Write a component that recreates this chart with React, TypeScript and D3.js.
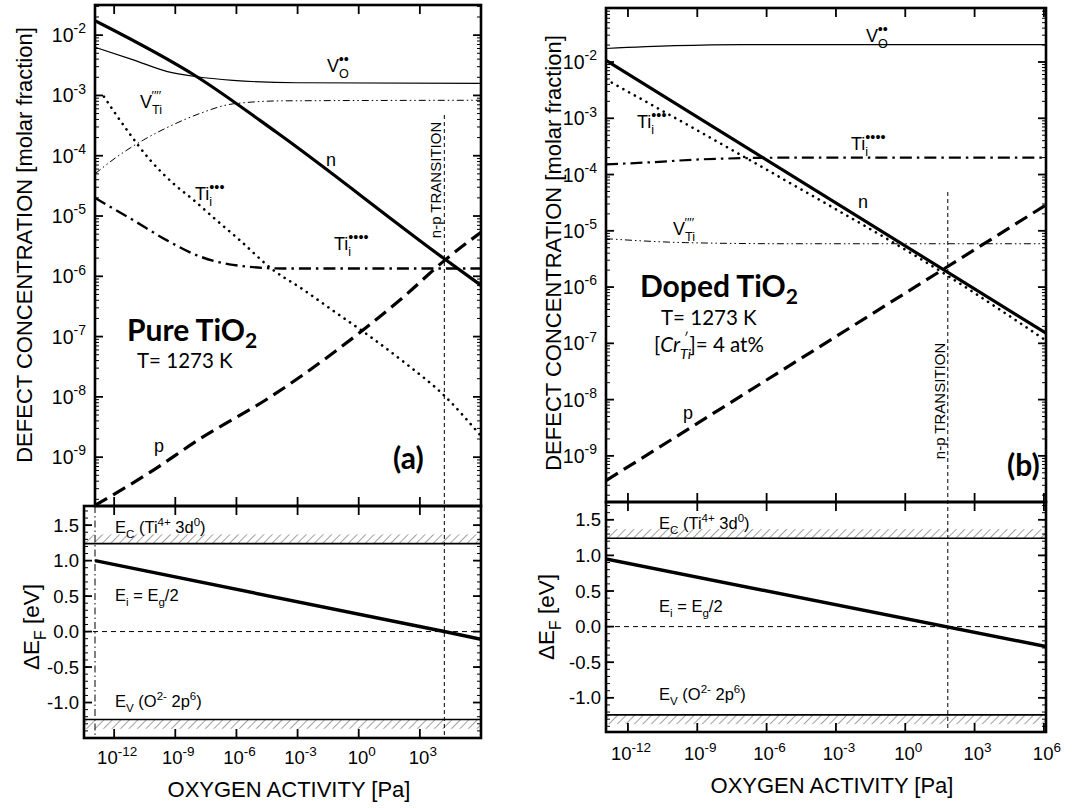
import React from "react";
import * as d3 from "d3";

// ---------------- DATA (log10 values) ----------------
// x = log10(oxygen activity / Pa), y = log10(defect concentration)
const xTickExps = [-12, -9, -6, -3, 0, 3, 6];
const efTickVals = [1.5, 1.0, 0.5, 0.0, -0.5, -1.0];

// (a) Pure TiO2
const pureN_x = [-12.94, -7.94, -4, 4.2, 6];
const pureN_y = [-1.76, -2.69, -3.62, -5.71, -6.15];
const pureP_x = [-12.94, -10.19, -7.72, -4.42, -1.13, 2.17, 4.2, 6];
const pureP_y = [-9.8, -9.24, -8.68, -8.02, -7.24, -6.35, -5.74, -5.27];
const pureVO_x = [-12.94, -11.06, -9.43, -7.94, -6.17, -3, 6];
const pureVO_y = [-2.2, -2.41, -2.6, -2.69, -2.75, -2.79, -2.8];
const pureVTi_x = [-12.94, -11.87, -10.57, -9.26, -7.8, -6.17, -3.73, 6];
const pureVTi_y = [-4.3, -4.02, -3.74, -3.51, -3.3, -3.14, -3.09, -3.08];
const pureTi3_x = [-12.5, -11.38, -10.24, -9.1, -8.12, -6.98, -5.84, -4.26, -2.77, -1.13, 0.52, 2.17, 4.2, 6];
const pureTi3_y = [-3.02, -3.57, -4.07, -4.46, -4.73, -5.07, -5.4, -5.88, -6.21, -6.6, -6.99, -7.41, -7.98, -8.65];
const pureTi4_x = [-12.94, -11.06, -9.43, -7.8, -6.17, -3.73, 6];
const pureTi4_y = [-4.7, -5.07, -5.4, -5.67, -5.81, -5.87, -5.87];
const pureEF_x = [-12.94, 4.2, 6];
const pureEF_y = [1.0, 0.0, -0.11];
const pureTransition = 4.2;

// (b) Doped TiO2
const dopedN_x = [-12.95, 6.09];
const dopedN_y = [-1.97, -6.82];
const dopedP_x = [-12.95, 6.09];
const dopedP_y = [-9.44, -4.54];
const dopedVO_x = [-12.95, -10, -7, 6.09];
const dopedVO_y = [-1.76, -1.71, -1.69, -1.69];
const dopedVTi_x = [-12.95, -9.52, -5, 6.09];
const dopedVTi_y = [-5.14, -5.21, -5.23, -5.23];
const dopedTi3_x = [-12.95, -5.33, 1.84, 6.09];
const dopedTi3_y = [-2.31, -4.07, -5.8, -6.95];
const dopedTi4_x = [-12.95, -10.92, -8.82, -5, 6.09];
const dopedTi4_y = [-3.82, -3.78, -3.73, -3.7, -3.7];
const dopedEF_x = [-12.95, 6.09];
const dopedEF_y = [0.95, -0.28];
const dopedTransition = 1.84;

const bandEc = 1.24;
const bandEv = -1.24;
const hatchH = 0.13;

// ---------------- STYLE ----------------
const FONT = "'Liberation Sans', Arial, Helvetica, sans-serif";
const CAL = "Lato, 'Open Sans', sans-serif";

type Seg = { t: string; k?: "sub" | "sup"; it?: boolean; dx?: number; scale?: number };

function Rich(props: {
  x: number; y: number; segs: Seg[]; size: number; family?: string;
  anchor?: string; weight?: string; transform?: string; subShift?: number;
}) {
  const { x, y, segs, size, family = FONT, anchor = "start", weight = "normal", transform, subShift = 0.32 } = props;
  let cur = 0;
  return (
    <text x={x} y={y} fontSize={size} fontFamily={family} textAnchor={anchor}
      fontWeight={weight} transform={transform} fill="#000">
      {segs.map((s, i) => {
        const target = s.k === "sub" ? size * subShift : s.k === "sup" ? -size * 0.45 : 0;
        const dy = target - cur;
        cur = target;
        return (
          <tspan key={i} dy={dy} dx={s.dx ?? 0}
            fontSize={s.k ? size * (s.scale ?? 0.7) : size}
            fontStyle={s.it ? "italic" : "normal"}>{s.t}</tspan>
        );
      })}
    </text>
  );
}

function Pow({ x, y, e, anchor, size, esize }: { x: number; y: number; e: number; anchor: string; size: number; esize: number }) {
  return (
    <text x={x} y={y} fontSize={size} fontFamily={FONT} textAnchor={anchor} fill="#000">
      <tspan>10</tspan>
      <tspan dy={-size * 0.45} fontSize={esize}>{String(e)}</tspan>
    </text>
  );
}

type Series = { xs: number[]; ys: number[]; w: number; dash?: string; cap?: string };

type PanelCfg = {
  id: string;
  ux0: number; ux1: number; uy0: number; uy1: number; lx0: number; ly1: number;
  xDom: [number, number]; yDom: [number, number]; efDom: [number, number];
  series: Series[]; ef: { xs: number[]; ys: number[] };
  trans: number; transTop: number; transLabel: [number, number];
  xLabelExps: number[];
  dashDotLeft: boolean;
  yTitleX: number; yTitleY: number; efTitleX: number; efTitleY: number;
  xTitleX: number; xTitleY: number; xLabY: number;
  lowerText: { x: number; ec: number; ei: number; ev: number };
  annotations: React.ReactNode;
};

function Panel({ c }: { c: PanelCfg }) {
  const pxPerDec = (c.ux1 - c.ux0) / (c.xDom[1] - c.xDom[0]);
  const xU = d3.scaleLog().domain([10 ** c.xDom[0], 10 ** c.xDom[1]]).range([c.ux0, c.ux1]);
  const xL = d3.scaleLog()
    .domain([10 ** (c.xDom[0] - (c.ux0 - c.lx0) / pxPerDec), 10 ** c.xDom[1]])
    .range([c.lx0, c.ux1]);
  const yU = d3.scaleLog().domain([10 ** c.yDom[0], 10 ** c.yDom[1]]).range([c.uy1, c.uy0]);
  const ly0 = c.uy1;
  const yL = d3.scaleLinear().domain(c.efDom).range([c.ly1, ly0]);

  const mkLine = (s: { xs: number[]; ys: number[] }) => {
    const pts: [number, number][] = s.xs.map((v, i) => [xU(10 ** v), yU(10 ** s.ys[i])]);
    return d3.line().curve(d3.curveMonotoneX)(pts) || "";
  };
  const efPts: [number, number][] = c.ef.xs.map((v, i) => [xL(10 ** v), yL(c.ef.ys[i])]);
  const efPath = d3.line().curve(d3.curveMonotoneX)(efPts) || "";

  // ticks
  const majorX = xTickExps.filter(e => e >= c.xDom[0] && e <= c.xDom[1]).map(e => xU(10 ** e))
    .filter(px => px > c.ux0 + 2 && px < c.ux1 - 1);
  const majorY = d3.range(Math.floor(c.yDom[0]), Math.ceil(c.yDom[1]) + 1)
    .filter(e => e >= c.yDom[0] && e <= c.yDom[1]);
  const minorY: number[] = [];
  d3.range(Math.floor(c.yDom[0]), Math.ceil(c.yDom[1]) + 1).forEach(d => {
    for (let m = 2; m <= 9; m++) {
      const v = d + Math.log10(m);
      if (v > c.yDom[0] && v < c.yDom[1]) minorY.push(v);
    }
  });
  const efMajor = d3.range(-1.5, 2.0001, 0.5).filter(v => v > c.efDom[0] && v < c.efDom[1]);
  const efMinor = d3.range(-15, 18).map(v => v / 10).filter(v => v > c.efDom[0] && v < c.efDom[1]);

  const tk: React.ReactNode[] = [];
  majorX.forEach((px, i) => {
    tk.push(<line key={"xt" + i} x1={px} x2={px} y1={c.uy0} y2={c.uy0 + 9} />);
    tk.push(<line key={"xb" + i} x1={px} x2={px} y1={c.uy1} y2={c.uy1 - 9} />);
    tk.push(<line key={"lxt" + i} x1={px} x2={px} y1={ly0} y2={ly0 + 9} />);
    tk.push(<line key={"lxb" + i} x1={px} x2={px} y1={c.ly1} y2={c.ly1 - 9} />);
  });
  majorY.forEach(e => {
    const py = yU(10 ** e);
    tk.push(<line key={"my" + e} x1={c.ux0} x2={c.ux0 + 8} y1={py} y2={py} />);
    tk.push(<line key={"myr" + e} x1={c.ux1} x2={c.ux1 - 8} y1={py} y2={py} />);
  });
  minorY.forEach((v, i) => {
    const py = yU(10 ** v);
    tk.push(<line key={"ny" + i} x1={c.ux0} x2={c.ux0 + 4} y1={py} y2={py} strokeWidth={1} />);
    tk.push(<line key={"nyr" + i} x1={c.ux1} x2={c.ux1 - 4} y1={py} y2={py} strokeWidth={1} />);
  });
  efMajor.forEach((v, i) => {
    const py = yL(v);
    tk.push(<line key={"em" + i} x1={c.lx0} x2={c.lx0 + 8} y1={py} y2={py} />);
    tk.push(<line key={"emr" + i} x1={c.ux1} x2={c.ux1 - 8} y1={py} y2={py} />);
  });
  efMinor.forEach((v, i) => {
    const py = yL(v);
    tk.push(<line key={"en" + i} x1={c.lx0} x2={c.lx0 + 4} y1={py} y2={py} strokeWidth={1} />);
    tk.push(<line key={"enr" + i} x1={c.ux1} x2={c.ux1 - 4} y1={py} y2={py} strokeWidth={1} />);
  });

  const tx = xU(10 ** c.trans);
  const hatchId = "hatch-" + c.id;
  const clipU = "clipU-" + c.id;
  const clipL = "clipL-" + c.id;

  return (
    <g>
      <defs>
        <pattern id={hatchId} width={6} height={6} patternUnits="userSpaceOnUse" patternTransform="rotate(45)">
          <line x1={0} y1={0} x2={0} y2={6} stroke="#444" strokeWidth={1} />
        </pattern>
        <clipPath id={clipU}><rect x={c.ux0} y={c.uy0} width={c.ux1 - c.ux0} height={c.uy1 - c.uy0} /></clipPath>
        <clipPath id={clipL}><rect x={c.lx0} y={ly0} width={c.ux1 - c.lx0} height={c.ly1 - ly0} /></clipPath>
      </defs>

      {/* upper panel curves */}
      <g clipPath={`url(#${clipU})`} fill="none" stroke="#000">
        {c.series.map((s, i) => (
          <path key={i} d={mkLine(s)} strokeWidth={s.w} strokeDasharray={s.dash}
            strokeLinecap={(s.cap as any) || "butt"} />
        ))}
      </g>

      {/* lower panel */}
      <g clipPath={`url(#${clipL})`}>
        <rect x={c.lx0} y={yL(bandEc + hatchH)} width={c.ux1 - c.lx0} height={yL(bandEc) - yL(bandEc + hatchH)} fill={`url(#${hatchId})`} />
        <rect x={c.lx0} y={yL(bandEv)} width={c.ux1 - c.lx0} height={yL(bandEv - hatchH) - yL(bandEv)} fill={`url(#${hatchId})`} />
        <line x1={c.lx0} x2={c.ux1} y1={yL(bandEc)} y2={yL(bandEc)} stroke="#000" strokeWidth={1.6} />
        <line x1={c.lx0} x2={c.ux1} y1={yL(bandEv)} y2={yL(bandEv)} stroke="#000" strokeWidth={1.6} />
        <line x1={c.lx0} x2={c.ux1} y1={yL(0)} y2={yL(0)} stroke="#000" strokeWidth={1} strokeDasharray="5,4" />
        {c.dashDotLeft && (
          <line x1={c.ux0} x2={c.ux0} y1={ly0} y2={c.ly1} stroke="#000" strokeWidth={1} strokeDasharray="7,3,1.5,3" />
        )}
        <path d={efPath} fill="none" stroke="#000" strokeWidth={3.5} />
      </g>

      {/* transition line */}
      <line x1={tx} x2={tx} y1={c.transTop} y2={c.ly1} stroke="#000" strokeWidth={1} strokeDasharray="4,3" />
      <text transform={`translate(${c.transLabel[0]},${c.transLabel[1]}) rotate(-90)`} textAnchor="middle"
        fontSize={15} fontFamily={FONT}>n-p TRANSITION</text>

      {/* ticks */}
      <g stroke="#000" strokeWidth={1.8}>{tk}</g>

      {/* frames */}
      <rect x={c.ux0} y={c.uy0} width={c.ux1 - c.ux0} height={c.uy1 - c.uy0} fill="none" stroke="#000" strokeWidth={2.6} />
      <rect x={c.lx0} y={ly0} width={c.ux1 - c.lx0} height={c.ly1 - ly0} fill="none" stroke="#000" strokeWidth={2.6} />

      {/* y tick labels upper */}
      {majorY.map(e => <Pow key={"yl" + e} x={c.ux0 - 9} y={yU(10 ** e) + 7} e={e} anchor="end" size={19.5} esize={14} />)}
      {/* y tick labels lower */}
      {efTickVals.map(v => (
        <text key={"el" + v} x={c.lx0 - 5} y={yL(v) + 6.5} fontSize={18.5} fontFamily={FONT} textAnchor="end">{v.toFixed(1)}</text>
      ))}
      {/* x tick labels */}
      {c.xLabelExps.map(e => <Pow key={"xl" + e} x={xL(10 ** e) + 3} y={c.xLabY} e={e} anchor="middle" size={18.5} esize={13.5} />)}

      {/* axis titles */}
      <text transform={`translate(${c.yTitleX},${c.yTitleY}) rotate(-90)`} textAnchor="middle" fontSize={22} fontFamily={FONT}>
        DEFECT CONCENTRATION [molar fraction]
      </text>
      <Rich x={0} y={0} transform={`translate(${c.efTitleX},${c.efTitleY}) rotate(-90)`} anchor="middle" size={22.5}
        segs={[{ t: "ΔE" }, { t: "F", k: "sub" }, { t: " [eV]" }]} />
      <text x={c.xTitleX} y={c.xTitleY} textAnchor="middle" fontSize={22} fontFamily={FONT}>OXYGEN ACTIVITY [Pa]</text>

      {/* lower panel labels */}
      <Rich x={c.lowerText.x} y={c.lowerText.ec} size={16.5}
        segs={[{ t: "E" }, { t: "C", k: "sub" }, { t: " (Ti" }, { t: "4+", k: "sup" }, { t: " 3d" }, { t: "0", k: "sup" }, { t: ")" }]} />
      <Rich x={c.lowerText.x} y={c.lowerText.ei} size={16.5}
        segs={[{ t: "E" }, { t: "i", k: "sub" }, { t: " = E" }, { t: "g", k: "sub" }, { t: "/2" }]} />
      <Rich x={c.lowerText.x} y={c.lowerText.ev} size={16.5}
        segs={[{ t: "E" }, { t: "V", k: "sub" }, { t: " (O" }, { t: "2-", k: "sup" }, { t: " 2p" }, { t: "6", k: "sup" }, { t: ")" }]} />

      {c.annotations}
    </g>
  );
}

const DOTS3 = "•••";
const DOTS4 = "••••";
const PRIMES = "′′′′";

function VO({ x, y }: { x: number; y: number }) {
  return <Rich x={x} y={y} size={18} segs={[{ t: "V" }, { t: "O", k: "sub" }, { t: "••", k: "sup", dx: -10, scale: 0.8 }]} />;
}
function VTi({ x, y }: { x: number; y: number }) {
  return <Rich x={x} y={y} size={18} segs={[{ t: "V" }, { t: "Ti", k: "sub" }, { t: PRIMES, k: "sup", dx: -10.5 }]} />;
}
function TiI({ x, y, dots }: { x: number; y: number; dots: string }) {
  return <Rich x={x} y={y} size={18} segs={[{ t: "Ti" }, { t: "i", k: "sub" }, { t: dots, k: "sup", dx: -2.8, scale: 0.8 }]} />;
}
function Plain({ x, y, t }: { x: number; y: number; t: string }) {
  return <text x={x} y={y} fontSize={18} fontFamily={FONT}>{t}</text>;
}

const pureCfg: PanelCfg = {
  id: "a",
  ux0: 95, ux1: 481, uy0: 5, uy1: 506, lx0: 84, ly1: 738,
  xDom: [-12.94, 6], yDom: [-9.81, -1.5], efDom: [-1.5, 1.77],
  series: [
    { xs: pureVO_x, ys: pureVO_y, w: 1.2 },
    { xs: pureVTi_x, ys: pureVTi_y, w: 1, dash: "7,3,1.5,3,1.5,3" },
    { xs: pureTi3_x, ys: pureTi3_y, w: 2.6, dash: "0.1,6.5", cap: "round" },
    { xs: pureTi4_x, ys: pureTi4_y, w: 2.4, dash: "12,5,2.5,5" },
    { xs: pureP_x, ys: pureP_y, w: 3.2, dash: "14,7" },
    { xs: pureN_x, ys: pureN_y, w: 3.2 },
  ],
  ef: { xs: pureEF_x, ys: pureEF_y },
  trans: pureTransition, transTop: 115, transLabel: [441, 180],
  xLabelExps: [-12, -9, -6, -3, 0, 3],
  dashDotLeft: true,
  yTitleX: 32, yTitleY: 245, efTitleX: 39, efTitleY: 627,
  xTitleX: 289, xTitleY: 797, xLabY: 764,
  lowerText: { x: 115, ec: 533, ei: 601, ev: 707 },
  annotations: (
    <g>
      <VO x={327} y={72} />
      <VTi x={140} y={108} />
      <Plain x={326} y={166} t="n" />
      <TiI x={195} y={200} dots={DOTS3} />
      <TiI x={334} y={250} dots={DOTS4} />
      <Plain x={154} y={452} t="p" />
      <Rich x={127} y={341} size={30} family={CAL} weight="bold" subShift={0.22} segs={[{ t: "Pure TiO" }, { t: "2", k: "sub" }]} />
      <text x={137} y={368} fontSize={20.5} fontFamily={CAL}>T= 1273 K</text>
      <text x={393} y={469} fontSize={30} fontFamily={CAL} fontWeight="bold">(a)</text>
    </g>
  ),
};

const dopedCfg: PanelCfg = {
  id: "b",
  ux0: 606, ux1: 1046, uy0: 8, uy1: 502, lx0: 606, ly1: 732,
  xDom: [-12.95, 6.09], yDom: [-9.82, -1.04], efDom: [-1.48, 1.75],
  series: [
    { xs: dopedVO_x, ys: dopedVO_y, w: 1.2 },
    { xs: dopedVTi_x, ys: dopedVTi_y, w: 1, dash: "7,3,1.5,3,1.5,3" },
    { xs: dopedTi3_x, ys: dopedTi3_y, w: 2.6, dash: "0.1,6.5", cap: "round" },
    { xs: dopedTi4_x, ys: dopedTi4_y, w: 2.2, dash: "12,5,2.5,5" },
    { xs: dopedP_x, ys: dopedP_y, w: 3.2, dash: "14,7" },
    { xs: dopedN_x, ys: dopedN_y, w: 3.2 },
  ],
  ef: { xs: dopedEF_x, ys: dopedEF_y },
  trans: dopedTransition, transTop: 192, transLabel: [945, 401],
  xLabelExps: [-12, -9, -6, -3, 0, 3, 6],
  dashDotLeft: false,
  yTitleX: 561, yTitleY: 253, efTitleX: 554, efTitleY: 617,
  xTitleX: 832, xTitleY: 793, xLabY: 760,
  lowerText: { x: 659, ec: 529, ei: 612, ev: 700 },
  annotations: (
    <g>
      <VO x={866} y={42} />
      <TiI x={637} y={128} dots={DOTS3} />
      <TiI x={851} y={150} dots={DOTS4} />
      <Plain x={858} y={208} t="n" />
      <VTi x={673} y={235} />
      <Plain x={683} y={419} t="p" />
      <Rich x={640} y={297} size={30} family={CAL} weight="bold" subShift={0.22} segs={[{ t: "Doped TiO" }, { t: "2", k: "sub" }]} />
      <text x={661} y={325} fontSize={20.5} fontFamily={CAL}>T= 1273 K</text>
      <Rich x={654} y={352} size={20.5} family={CAL}
        segs={[{ t: "[" }, { t: "Cr", it: true }, { t: "Ti", k: "sub", it: true }, { t: "′", k: "sup", it: true, dx: -8 }, { t: "]= 4 at%", dx: 2 }]} />
      <text x={1007} y={476} fontSize={30} fontFamily={CAL} fontWeight="bold">(b)</text>
    </g>
  ),
};

export default function App() {
  return (
    <svg width={1074} height={808} viewBox="0 0 1074 808"
      style={{ position: "absolute", left: 0, top: 0, background: "#fff" }}>
      <rect x={0} y={0} width={1074} height={808} fill="#fff" />
      <Panel c={pureCfg} />
      <Panel c={dopedCfg} />
    </svg>
  );
}
